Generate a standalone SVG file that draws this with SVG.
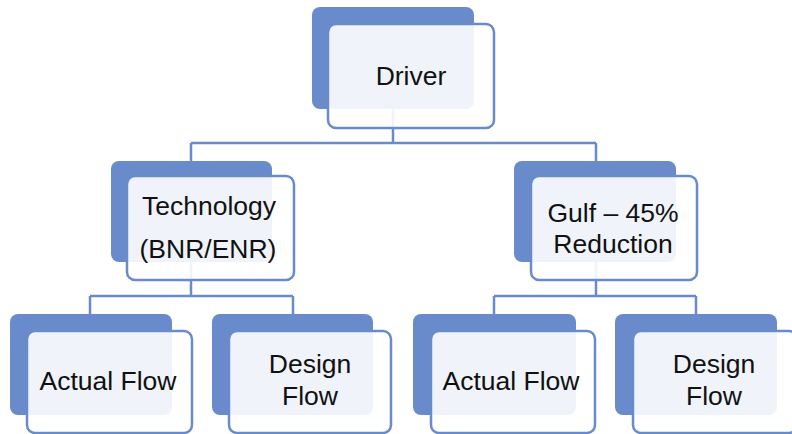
<svg xmlns="http://www.w3.org/2000/svg" width="792" height="434" viewBox="0 0 792 434">
  <style>
    .back { fill: #6a8bcb; }
    .front { fill: #ffffff; fill-opacity: 0.9; stroke: #6a8bcb; stroke-width: 2.5; }
    .link { fill: none; stroke: #6a8bcb; stroke-width: 2.5; }
    .label { font-family: "Liberation Sans", Arial, sans-serif; font-size: 26.5px; fill: #111111; text-anchor: middle; }
  </style>
  <rect width="792" height="434" fill="#ffffff"/>

  <!-- connectors (drawn beneath the translucent cards) -->
  <g id="connectors">
    <path class="link" d="M393 109 V143 M191 143 H596 M191 143 V161 M596 143 V161"/>
    <path class="link" d="M191 262 V296 M90 296 H293 M90 296 V314 M293 296 V314"/>
    <path class="link" d="M596 262 V296 M494 296 H696 M494 296 V314 M696 296 V314"/>
  </g>

  <g id="driver">
    <rect class="back" x="312" y="7" width="162" height="102" rx="8"/>
    <rect class="front" x="328" y="24" width="166" height="104" rx="8"/>
    <text class="label" x="411" y="85">Driver</text>
  </g>

  <g id="technology">
    <rect class="back" x="111" y="161" width="161" height="101" rx="8"/>
    <rect class="front" x="127" y="176" width="167" height="104" rx="8"/>
    <text class="label" x="209" y="215">Technology</text>
    <text class="label" x="208" y="258">(BNR/ENR)</text>
  </g>

  <g id="gulf">
    <rect class="back" x="514" y="161" width="162" height="101" rx="8"/>
    <rect class="front" x="531" y="176" width="166" height="104" rx="8"/>
    <text class="label" x="613" y="222">Gulf – 45%</text>
    <text class="label" x="613" y="253">Reduction</text>
  </g>

  <g id="tech-actual">
    <rect class="back" x="10" y="314" width="162" height="101" rx="8"/>
    <rect class="front" x="27" y="331" width="165" height="102" rx="8"/>
    <text class="label" x="108" y="390">Actual Flow</text>
  </g>

  <g id="tech-design">
    <rect class="back" x="212" y="314" width="161" height="101" rx="8"/>
    <rect class="front" x="229" y="331" width="162" height="102" rx="8"/>
    <text class="label" x="310" y="373">Design</text>
    <text class="label" x="310" y="405">Flow</text>
  </g>

  <g id="gulf-actual">
    <rect class="back" x="413" y="314" width="163" height="101" rx="8"/>
    <rect class="front" x="431" y="331" width="164" height="102" rx="8"/>
    <text class="label" x="511" y="390">Actual Flow</text>
  </g>

  <g id="gulf-design">
    <rect class="back" x="615" y="314" width="162" height="101" rx="8"/>
    <rect class="front" x="633" y="331" width="164" height="102" rx="8"/>
    <text class="label" x="714" y="373">Design</text>
    <text class="label" x="714" y="405">Flow</text>
  </g>
</svg>
